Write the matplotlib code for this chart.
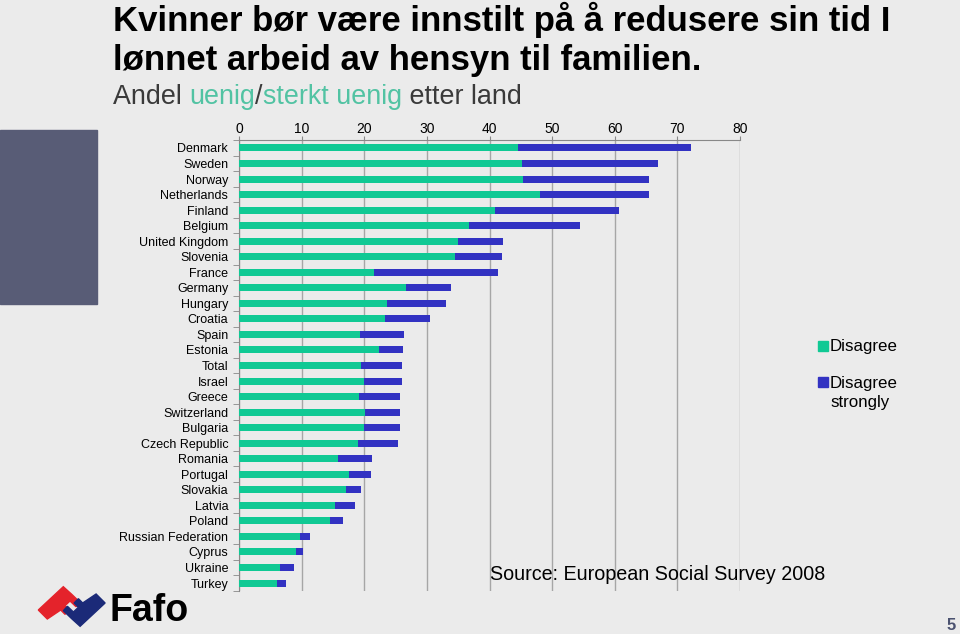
import numpy as np
import matplotlib.pyplot as plt
from matplotlib.patches import Rectangle, Polygon

# data (percent)
countries = ["Denmark", "Sweden", "Norway", "Netherlands", "Finland", "Belgium",
             "United Kingdom", "Slovenia", "France", "Germany", "Hungary", "Croatia",
             "Spain", "Estonia", "Total", "Israel", "Greece", "Switzerland",
             "Bulgaria", "Czech Republic", "Romania", "Portugal", "Slovakia",
             "Latvia", "Poland", "Russian Federation", "Cyprus", "Ukraine", "Turkey"]
disagree = [44.6, 45.2, 45.4, 48.0, 40.8, 36.7, 35.0, 34.5, 21.6, 26.6, 23.6, 23.2,
            19.3, 22.3, 19.4, 19.9, 19.2, 20.1, 19.9, 18.9, 15.7, 17.5, 17.0,
            15.3, 14.5, 9.7, 9.1, 6.5, 6.1]
disagree_strongly = [27.5, 21.7, 20.1, 17.5, 19.9, 17.7, 7.1, 7.4, 19.7, 7.3, 9.5, 7.3,
                     7.0, 3.8, 6.6, 6.1, 6.5, 5.5, 5.7, 6.5, 5.5, 3.6, 2.4,
                     3.2, 2.1, 1.6, 1.1, 2.2, 1.3]
xticks = [0, 10, 20, 30, 40, 50, 60, 70, 80]

BG = "#ebebeb"
GREEN = "#10c994"
BLUE = "#3232c2"
TEAL = "#52c3a3"

fig = plt.figure(figsize=(9.6, 6.34), dpi=100, facecolor=BG)
plt.rcParams['font.family'] = ['Liberation Sans', 'DejaVu Sans']

W, H = 960.0, 634.0


def fx(px):
    return px / W


def fy(py):
    return 1 - py / H


ax = fig.add_axes([fx(239.3), fy(590.8), (740 - 239.3) / W, (590.8 - 140.2) / H])
ax.set_facecolor(BG)

y = np.arange(len(countries))
ax.barh(y, disagree, height=0.45, color=GREEN, label="Disagree", zorder=3)
ax.barh(y, disagree_strongly, left=disagree, height=0.45, color=BLUE,
        label="Disagree\nstrongly", zorder=3)

ax.set_xlim(0, 80)
ax.set_ylim(len(countries) - 0.5, -0.5)
ax.set_xticks(xticks)
ax.xaxis.tick_top()
ax.tick_params(axis="x", colors="#888888", labelcolor="black", labelsize=10,
               length=3, pad=0)
ax.set_yticks(y)
ax.set_yticklabels(countries, fontsize=9)
ax.set_yticks(np.arange(len(countries) + 1) - 0.5, minor=True)
ax.tick_params(axis="y", which="major", length=0, pad=8)
ax.tick_params(axis="y", which="minor", length=4, color="#888888")
ax.grid(axis="x", color="#a6a6a6", linewidth=1, zorder=0)
ax.spines["right"].set_visible(False)
ax.spines["bottom"].set_visible(False)
ax.spines["left"].set_color("#888888")
ax.spines["top"].set_color("#888888")
ax.set_axisbelow(True)

# legend
fig.patches.append(Rectangle((fx(818), fy(351)), 10 / W, 10 / H,
                             transform=fig.transFigure, color=GREEN))
fig.text(fx(830), fy(346), "Disagree", fontsize=12.2, va="center", ha="left")
fig.patches.append(Rectangle((fx(818), fy(387)), 10 / W, 10 / H,
                             transform=fig.transFigure, color=BLUE))
fig.text(fx(830), fy(376), "Disagree\nstrongly", fontsize=12.2, va="top", ha="left",
         linespacing=1.32)

fig.text(fx(490), fy(580), "Source: European Social Survey 2008", fontsize=14.2,
         va="baseline", ha="left")

# title
fig.text(fx(113), fy(31), "Kvinner bør være innstilt på å redusere sin tid I",
         fontsize=25, fontweight="bold", va="baseline")
fig.text(fx(113), fy(70), "lønnet arbeid av hensyn til familien.",
         fontsize=25, fontweight="bold", va="baseline")

renderer = fig.canvas.get_renderer()
xpos = fx(113)
for part, col in [("Andel ", "#3a3a3a"), ("uenig", TEAL), ("/", "#3a3a3a"),
                  ("sterkt uenig", TEAL), (" etter land", "#3a3a3a")]:
    t = fig.text(xpos, fy(104), part, fontsize=19.4, color=col, va="baseline")
    bb = t.get_window_extent(renderer)
    xpos += bb.width / fig.bbox.width

# dark block on the left
fig.patches.append(Rectangle((0, fy(304)), 97 / W, 174 / H,
                             transform=fig.transFigure, color="#585c76"))

# Fafo logo (rough): red piece, blue piece is its point mirror
red = np.array([(38.3, 610), (63.3, 586.7), (71.7, 594.3), (80, 602.3), (76, 606.7),
                (70, 601), (65, 605.7), (69.3, 610), (65, 614.3), (60.7, 610),
                (47.3, 619)])
blue = 2 * np.array([71.7, 606.5]) - red
for pts, col in [(red, "#e4232b"), (blue, "#1b2a78")]:
    fig.patches.append(Polygon([(fx(a), fy(b)) for a, b in pts], closed=True,
                               transform=fig.transFigure, color=col))
fig.text(fx(110), fy(621), "Fafo", fontsize=27, fontweight="bold", va="baseline")

fig.text(fx(951), fy(630), "5", fontsize=12, fontweight="bold", color="#4b5270",
         ha="center", va="baseline")

fig.savefig("out.png", dpi=100, facecolor=BG)
